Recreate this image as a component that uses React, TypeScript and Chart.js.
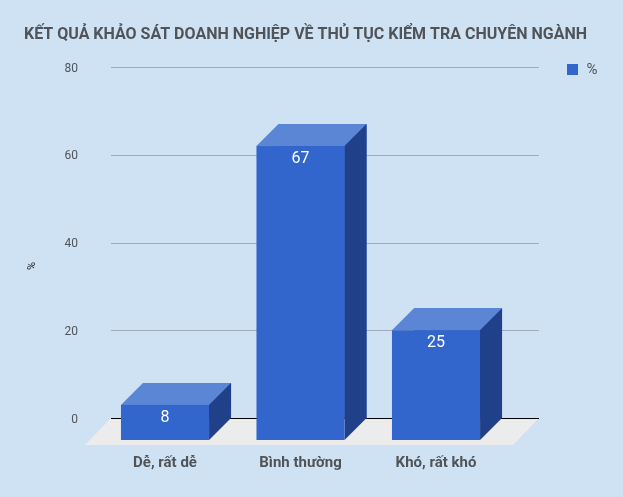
import React, { useEffect, useRef } from 'react';
import { Chart, registerables } from 'chart.js';

Chart.register(...registerables);

const TITLE = 'KẾT QUẢ KHẢO SÁT DOANH NGHIỆP VỀ THỦ TỤC KIỂM TRA CHUYÊN NGÀNH';
const categories = ['Dễ, rất dễ', 'Bình thường', 'Khó, rất khó'];
const seriesName = '%';
const values = [8, 67, 25];
const yMin = 0;
const yMax = 80;
const yStep = 20;
const yAxisTitle = '%';

const W = 623;
const H = 497;
const BG = '#cfe2f3';
const FRONT = '#3366cc';
const TOP = '#5b86d6';
const SIDE = '#21408a';
const FLOOR = '#ececec';
const GRID = '#9fabb8';
const TEXT = '#505459';
const FONT = 'Roboto, "Noto Sans", sans-serif';

const DEPTH_X = 22;
const DEPTH_Y = 22;
const FLOOR_X = 26;
const FLOOR_Y = 27;
const GRID_EXT_L = 8.25;
const GRID_EXT_R = 13.25;

const threeDPlugin = {
  id: 'threeD',
  beforeDatasetsDraw(chart: any) {
    const { ctx, chartArea, scales } = chart;
    const ys = scales.y;
    const y0 = ys.getPixelForValue(0);
    const left = chartArea.left - GRID_EXT_L;
    const right = chartArea.right + GRID_EXT_R;
    ctx.save();
    ctx.fillStyle = FLOOR;
    ctx.beginPath();
    ctx.moveTo(left, y0);
    ctx.lineTo(right, y0);
    ctx.lineTo(right - FLOOR_X, y0 + FLOOR_Y);
    ctx.lineTo(left - FLOOR_X, y0 + FLOOR_Y);
    ctx.closePath();
    ctx.fill();
    ys.ticks.forEach((t: any) => {
      const py = Math.round(ys.getPixelForValue(t.value)) + 0.5;
      ctx.strokeStyle = t.value === 0 ? '#000000' : GRID;
      ctx.lineWidth = 1;
      ctx.beginPath();
      ctx.moveTo(left, py);
      ctx.lineTo(right, py);
      ctx.stroke();
    });
    ctx.restore();
  },
  afterDatasetsDraw(chart: any) {
    const { ctx } = chart;
    const meta = chart.getDatasetMeta(0);
    const data = chart.data.datasets[0].data;
    ctx.save();
    meta.data.forEach((bar: any, i: number) => {
      const { x, y, base, width } = bar.getProps(['x', 'y', 'base', 'width'], true);
      const bl = x - width / 2;
      const br = x + width / 2;
      const fl = bl - DEPTH_X;
      const fr = br - DEPTH_X;
      const ft = y + DEPTH_Y;
      const fb = base + DEPTH_Y;
      // top face
      ctx.fillStyle = TOP;
      ctx.beginPath();
      ctx.moveTo(fl, ft);
      ctx.lineTo(bl, y);
      ctx.lineTo(br, y);
      ctx.lineTo(fr, ft);
      ctx.closePath();
      ctx.fill();
      // side face
      ctx.fillStyle = SIDE;
      ctx.beginPath();
      ctx.moveTo(fr, ft);
      ctx.lineTo(br, y);
      ctx.lineTo(br, base);
      ctx.lineTo(fr, fb);
      ctx.closePath();
      ctx.fill();
      // front face
      ctx.fillStyle = FRONT;
      ctx.fillRect(fl, ft, fr - fl, fb - ft);
      // value label
      ctx.fillStyle = '#ffffff';
      ctx.font = `16px ${FONT}`;
      ctx.textAlign = 'center';
      ctx.textBaseline = 'middle';
      ctx.fillText(String(data[i]), (fl + fr) / 2, ft + 13);
    });
    ctx.restore();
  },
  afterDraw(chart: any) {
    const { ctx } = chart;
    ctx.save();
    // legend
    ctx.fillStyle = FRONT;
    ctx.fillRect(567, 64, 11, 11);
    ctx.fillStyle = TEXT;
    ctx.font = `15px ${FONT}`;
    ctx.textAlign = 'left';
    ctx.textBaseline = 'middle';
    ctx.fillText(seriesName, 586.5, 70);
    // y axis title
    ctx.translate(32, 266);
    ctx.rotate(-Math.PI / 2);
    ctx.fillStyle = '#222222';
    ctx.font = `11px ${FONT}`;
    ctx.textAlign = 'center';
    ctx.fillText(yAxisTitle, 0, 0);
    ctx.restore();
  },
};

export default function App() {
  const ref = useRef<HTMLCanvasElement>(null);
  useEffect(() => {
    document.body.style.margin = '0';
    document.body.style.background = BG;
    if (!ref.current) return;
    const chart = new Chart(ref.current, {
      type: 'bar',
      data: {
        labels: categories,
        datasets: [
          {
            label: seriesName,
            data: values,
            backgroundColor: FRONT,
            borderWidth: 0,
            barPercentage: 0.65,
            categoryPercentage: 1,
          },
        ],
      },
      options: {
        animation: false,
        responsive: false,
        devicePixelRatio: 1,
        layout: { padding: { left: 24, right: 0, top: 0, bottom: 0 } },
        plugins: {
          legend: { display: false },
          tooltip: { enabled: false },
          title: {
            display: true,
            text: TITLE,
            align: 'start',
            color: TEXT,
            font: { family: FONT, size: 16, weight: 'bold' },
            padding: { top: 25.4, bottom: 22.4 },
          },
        },
        scales: {
          x: {
            grid: { display: false, drawTicks: false },
            border: { display: false },
            ticks: {
              color: TEXT,
              font: { family: FONT, size: 15, weight: 'bold' },
              padding: 36,
              labelOffset: -DEPTH_X,
              maxRotation: 0,
            },
            afterFit: (s: any) => {
              s.height = 79;
            },
          },
          y: {
            min: yMin,
            max: yMax,
            grid: { display: false, drawTicks: false },
            border: { display: false },
            ticks: {
              stepSize: yStep,
              color: TEXT,
              font: { family: FONT, size: 12 },
              padding: 41.25,
              labelOffset: 1.5,
            },
            afterFit: (s: any) => {
              s.width = 95.25;
            },
          },
          yRight: {
            type: 'linear',
            position: 'right',
            display: true,
            grid: { display: false, drawTicks: false },
            border: { display: false },
            ticks: { display: false },
            afterFit: (s: any) => {
              s.width = 97.25;
            },
          },
        },
      },
      plugins: [threeDPlugin],
    } as any);
    return () => chart.destroy();
  }, []);
  return (
    <div style={{ width: W, height: H, background: BG }}>
      <canvas ref={ref} width={W} height={H} style={{ display: 'block' }} />
    </div>
  );
}
